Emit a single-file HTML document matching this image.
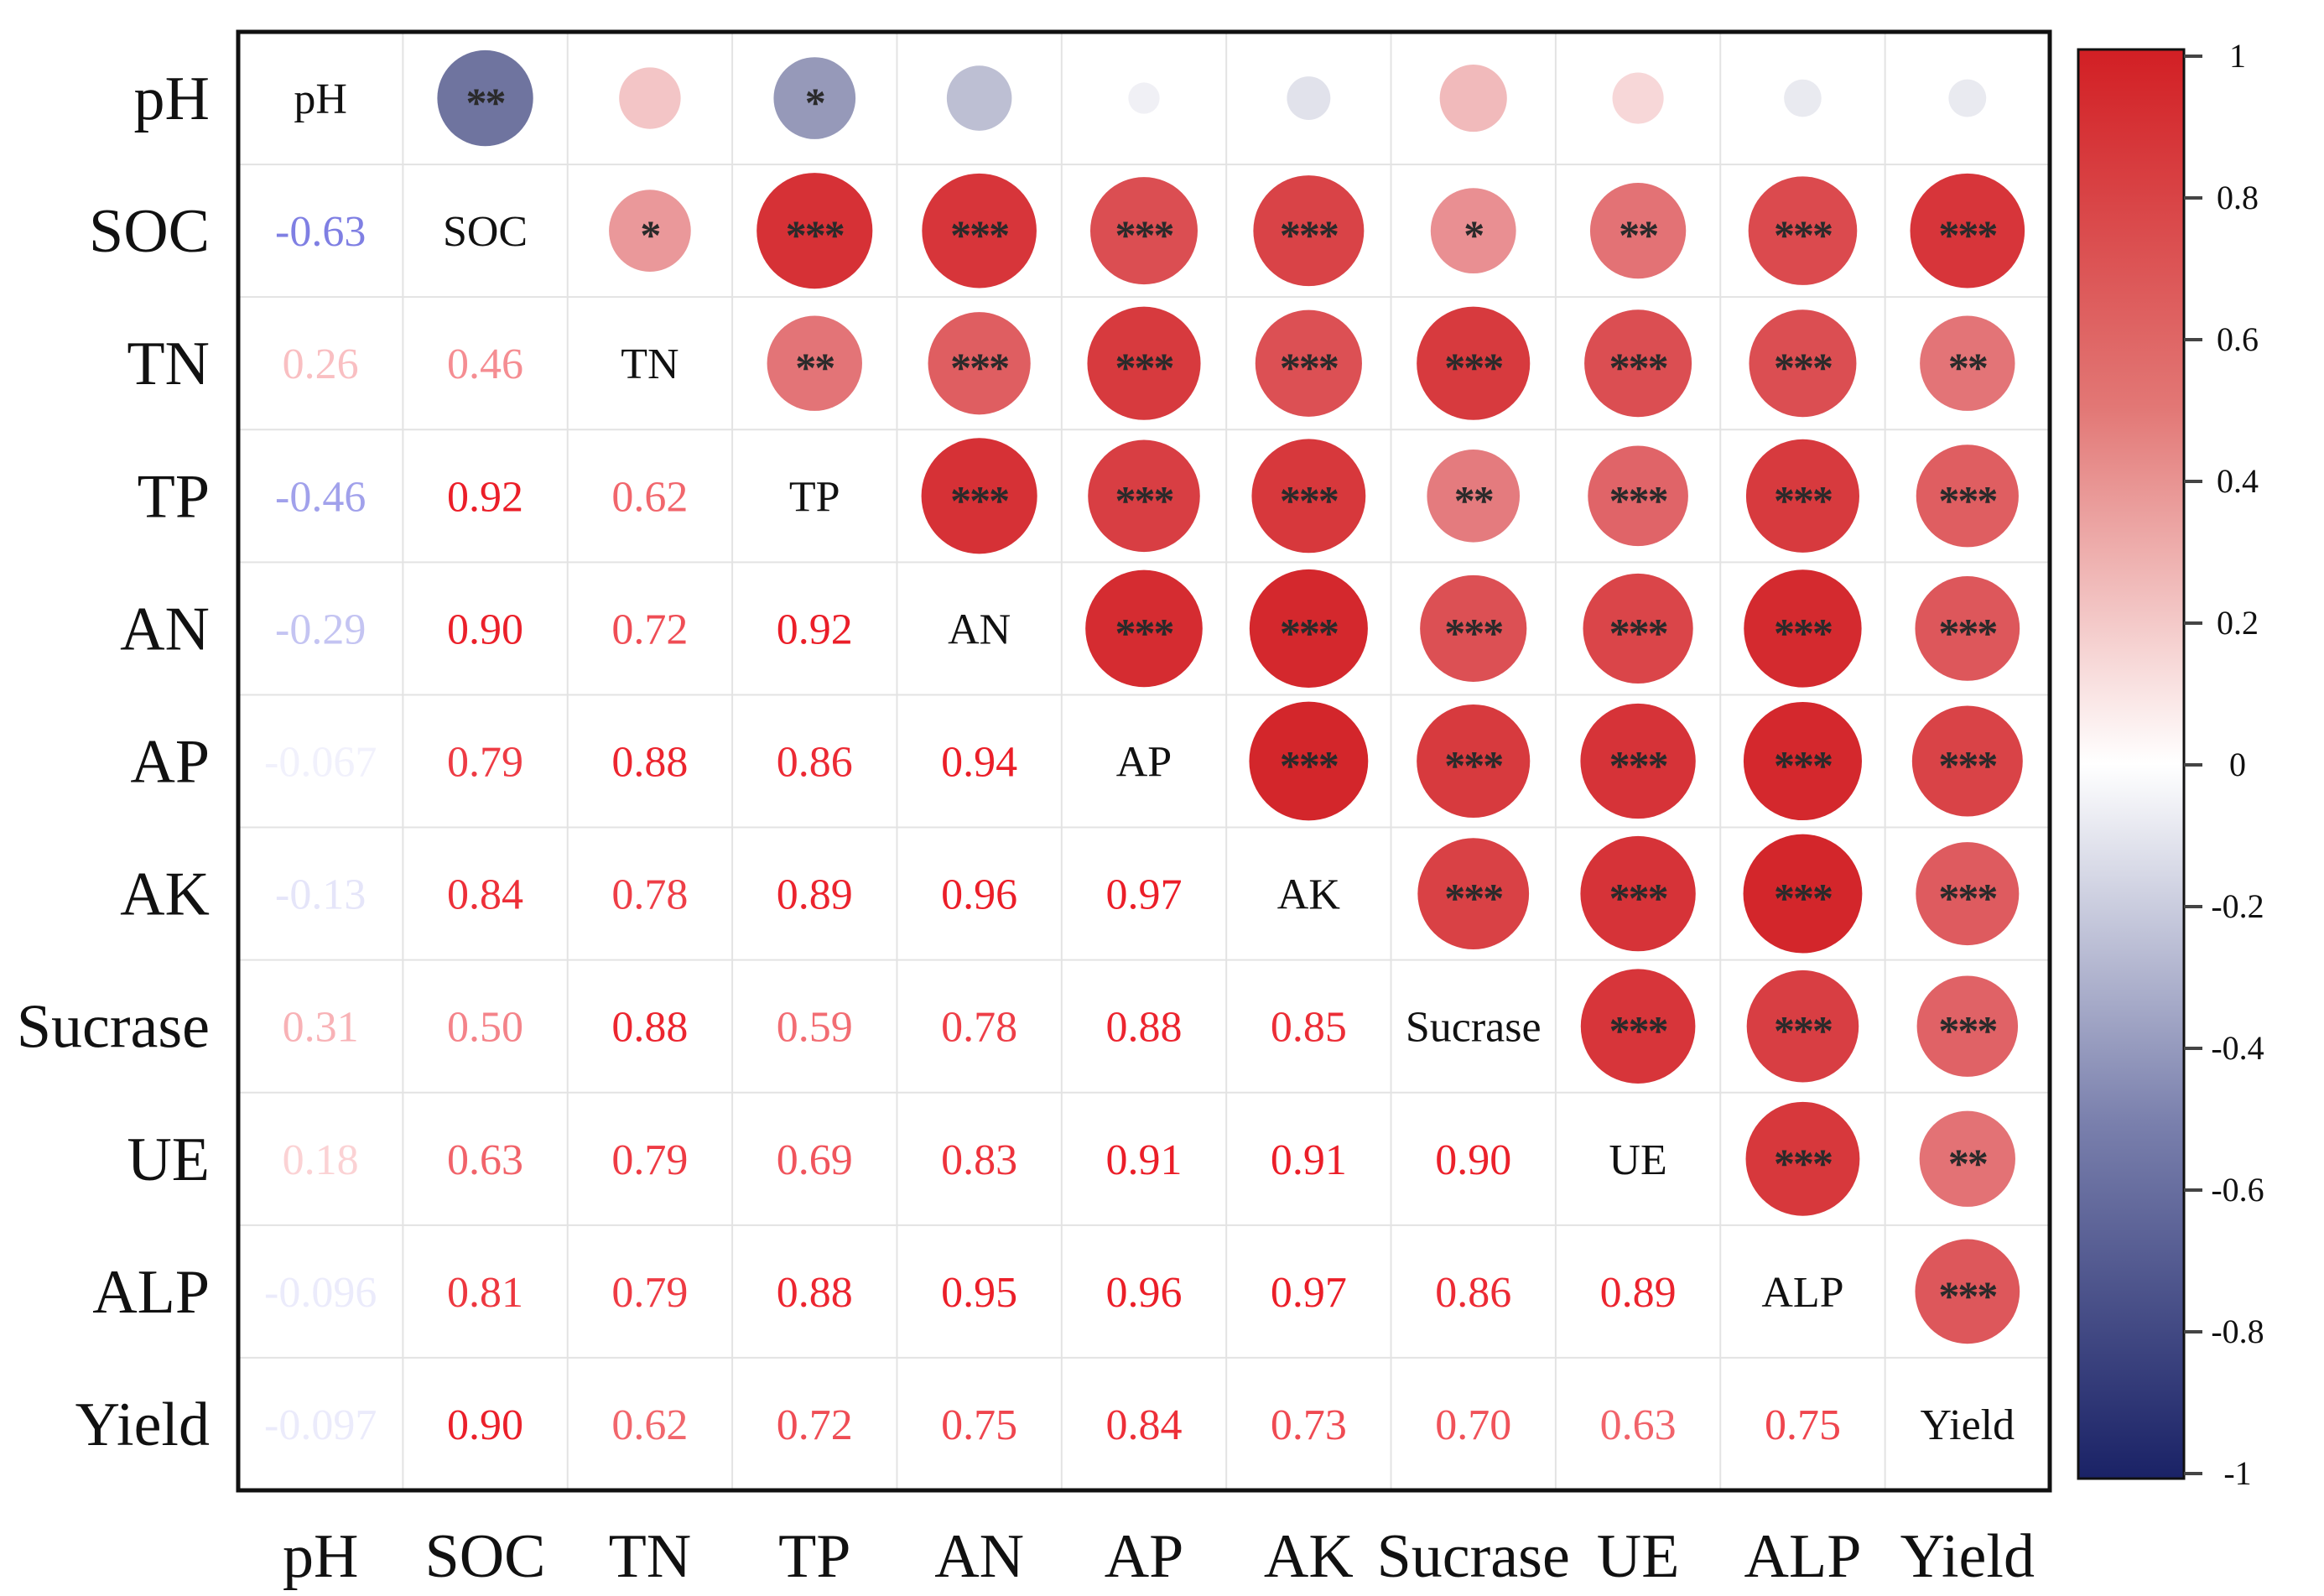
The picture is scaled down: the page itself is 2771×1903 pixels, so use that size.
<!DOCTYPE html>
<html><head><meta charset="utf-8"><style>
html,body{margin:0;padding:0;background:#fff;}
svg{display:block;font-family:"Liberation Serif",serif;}
</style></head><body>
<svg id="chart" width="2771" height="1903" viewBox="0 0 2771 1903">
<defs>
<linearGradient id="cbg" x1="0" y1="0" x2="0" y2="1">
<stop offset="0" stop-color="#d21f24"/><stop offset="0.25" stop-color="#e27775"/>
<stop offset="0.5" stop-color="#ffffff"/><stop offset="0.75" stop-color="#7a80ad"/>
<stop offset="1" stop-color="#1a2266"/></linearGradient>
</defs>
<g id="grid"></g><g id="marks"></g>
<rect x="284" y="38" width="2160" height="1739" fill="none" stroke="#111" stroke-width="5"/>
<rect x="2478" y="59" width="126" height="1704" fill="url(#cbg)" stroke="#111" stroke-width="3"/>
<g id="cbticks"></g>
</svg>
<script>
const vars=["pH","SOC","TN","TP","AN","AP","AK","Sucrase","UE","ALP","Yield"];
const rows=[
[],
[-0.63],
[0.26,0.46],
[-0.46,0.92,0.62],
[-0.29,0.90,0.72,0.92],
[-0.067,0.79,0.88,0.86,0.94],
[-0.13,0.84,0.78,0.89,0.96,0.97],
[0.31,0.50,0.88,0.59,0.78,0.88,0.85],
[0.18,0.63,0.79,0.69,0.83,0.91,0.91,0.90],
[-0.096,0.81,0.79,0.88,0.95,0.96,0.97,0.86,0.89],
[-0.097,0.90,0.62,0.72,0.75,0.84,0.73,0.70,0.63,0.75]];
const stars=[
["","**","","*","","","","","","",""],
["","","*","***","***","***","***","*","**","***","***"],
["","","","**","***","***","***","***","***","***","**"],
["","","","","***","***","***","**","***","***","***"],
["","","","","","***","***","***","***","***","***"],
["","","","","","","***","***","***","***","***"],
["","","","","","","","***","***","***","***"],
["","","","","","","","","***","***","***"],
["","","","","","","","","","***","**"],
["","","","","","","","","","","***"],
["","","","","","","","","","",""]];
const cbTicks=[1,0.8,0.6,0.4,0.2,0,-0.2,-0.4,-0.6,-0.8,-1];
const cbLabels=["1","0.8","0.6","0.4","0.2","0","-0.2","-0.4","-0.6","-0.8","-1"];

const NS="http://www.w3.org/2000/svg";
const X0=284,Y0=38,CW=2160/11,CH=1739/11;
const cx=j=>X0+CW*(j+0.5), cy=i=>Y0+CH*(i+0.5);
const cbY=v=>1757-(v+1)/2*1690;
function r(i,j){return i>j?rows[i][j]:rows[j][i];}
function fmt(v){return Math.abs(v)<0.1?v.toFixed(3):v.toFixed(2);}
function mix(a,b,t){return a.map((x,k)=>Math.round(x+(b[k]-x)*t));}
function fillCol(v){const t=Math.abs(v);const c=v>=0?mix([255,255,255],[210,31,36],t):mix([255,255,255],[26,34,102],t);return `rgb(${c})`;}
function textCol(v){const t=Math.min(1,Math.abs(v)*1.1);const c=v>=0?mix([255,255,255],[235,30,40],t):mix([255,255,255],[70,70,215],t);return `rgb(${c})`;}
function el(tag,attrs,parent,txt){const e=document.createElementNS(NS,tag);for(const k in attrs)e.setAttribute(k,attrs[k]);if(txt!=null)e.textContent=txt;parent.appendChild(e);return e;}
const grid=document.getElementById('grid'),marks=document.getElementById('marks'),svg=document.getElementById('chart'),cbt=document.getElementById('cbticks');
for(let k=1;k<11;k++){
 el('line',{x1:X0+CW*k,y1:Y0,x2:X0+CW*k,y2:Y0+CH*11,stroke:'#e3e3e3','stroke-width':2},grid);
 el('line',{x1:X0,y1:Y0+CH*k,x2:X0+CW*11,y2:Y0+CH*k,stroke:'#e3e3e3','stroke-width':2},grid);
}
vars.forEach((v,i)=>{
 const a=el('text',{x:250,y:cy(i)+25,'text-anchor':'end','font-size':74,fill:'#111'},svg,v);
 
 
 const b=el('text',{x:cx(i),y:1880,'text-anchor':'middle','font-size':74,fill:'#111'},svg,v);
 
 
});
for(let i=0;i<11;i++)for(let j=0;j<11;j++){
 if(i===j){
  const t=el('text',{x:cx(j),y:cy(i)+18,'text-anchor':'middle','font-size':52,fill:'#111'},marks,vars[i]);
  
  
 } else if(i>j){
  const v=r(i,j);
  const t=el('text',{x:cx(j),y:cy(i)+18,'text-anchor':'middle','font-size':52,fill:textCol(v)},marks,fmt(v));
  
  
 } else {
  const v=r(i,j);
  const c=el('circle',{cx:cx(j),cy:cy(i),r:72*Math.sqrt(Math.abs(v)),fill:fillCol(v)},marks);
  
  
  if(stars[i][j]){
   const s=el('text',{x:cx(j),y:cy(i)+22,'text-anchor':'middle','font-size':50,'font-weight':'bold','letter-spacing':'-2',fill:'#2a2a2a'},marks,stars[i][j]);
   
   
  }
 }
}
cbTicks.forEach((v,k)=>{
 el('line',{x1:2604,y1:cbY(v),x2:2626,y2:cbY(v),stroke:'#444','stroke-width':4},cbt);
 const t=el('text',{x:2668,y:cbY(v)+13,'text-anchor':'middle','font-size':40,fill:'#111'},cbt,cbLabels[k]);
 
 
});
</script>
</body></html>
